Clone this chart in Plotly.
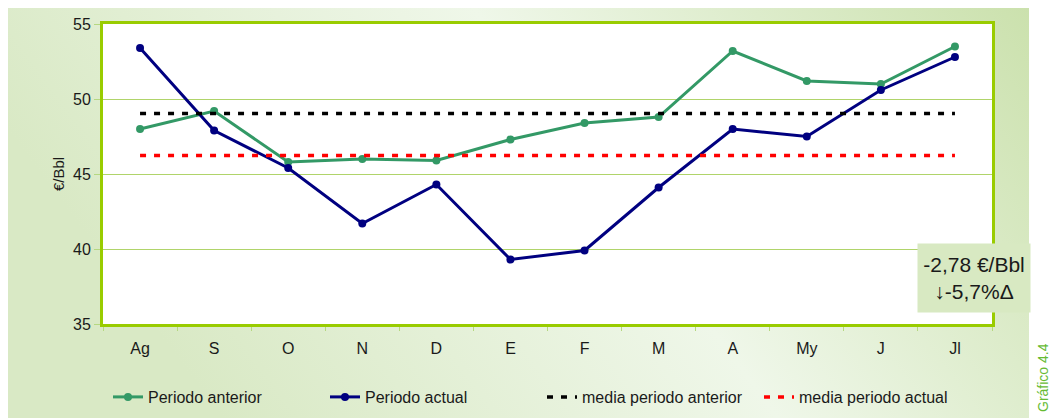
import base64
import plotly.graph_objects as go

meses = ["Ag", "S", "O", "N", "D", "E", "F", "M", "A", "My", "J", "Jl"]
periodo_anterior = [48.0, 49.2, 45.8, 46.0, 45.9, 47.3, 48.4, 48.8, 53.2, 51.2, 51.0, 53.5]
periodo_actual = [53.4, 47.9, 45.4, 41.7, 44.3, 39.3, 39.9, 44.1, 48.0, 47.5, 50.6, 52.8]
media_anterior = [49.03, 49.03, 49.03, 49.03, 49.03, 49.03, 49.03, 49.03, 49.03, 49.03, 49.03, 49.03]
media_actual = [46.24, 46.24, 46.24, 46.24, 46.24, 46.24, 46.24, 46.24, 46.24, 46.24, 46.24, 46.24]
y_ticks = [35, 40, 45, 50, 55]

W, H = 1057, 418
OFF = 8  # page body margin offset
L, T = 103 - OFF, 24 - OFF
PW, PH = 889, 300
R, B = W - L - PW, H - T - PH

def px_x(p):
    return (p - OFF - L) / PW

def px_y(p):
    return (T + PH - (p - OFF)) / PH

FONT = "Arial, Liberation Sans, sans-serif"

svg = (
    '<svg xmlns="http://www.w3.org/2000/svg" width="1022" height="412" preserveAspectRatio="none">'
    '<defs><linearGradient id="g" x1="0" y1="0.3" x2="1" y2="0">'
    '<stop offset="0" stop-color="#d9e9c5"/>'
    '<stop offset="0.5" stop-color="#eff7e9"/>'
    '<stop offset="1" stop-color="#cbe1ad"/>'
    '</linearGradient></defs>'
    '<rect width="1022" height="412" fill="url(#g)"/></svg>'
)
svg_uri = "data:image/svg+xml;base64," + base64.b64encode(svg.encode()).decode()

fig = go.Figure()
fig.add_trace(go.Scatter(
    x=meses, y=periodo_anterior, name="Periodo anterior", mode="lines+markers",
    line=dict(color="#339966", width=3), marker=dict(size=8, color="#339966"),
))
fig.add_trace(go.Scatter(
    x=meses, y=periodo_actual, name="Periodo actual", mode="lines+markers",
    line=dict(color="#000080", width=3), marker=dict(size=8, color="#000080"),
))
fig.add_trace(go.Scatter(
    x=meses, y=media_anterior, name="media periodo anterior", mode="lines",
    line=dict(color="#000000", width=3.5, dash="6px,8px"),
))
fig.add_trace(go.Scatter(
    x=meses, y=media_actual, name="media periodo actual", mode="lines",
    line=dict(color="#ff0000", width=3.5, dash="6px,8px"),
))

fig.update_layout(
    width=W, height=H,
    margin=dict(l=L, r=R, t=T, b=B, pad=0, autoexpand=False),
    paper_bgcolor="#ffffff",
    plot_bgcolor="#ffffff",
    font=dict(family=FONT, size=16, color="#1a1a1a"),
    showlegend=True,
    legend=dict(
        orientation="h", x=px_x(108), y=px_y(397), xanchor="left", yanchor="middle",
        bgcolor="rgba(0,0,0,0)", font=dict(size=16, family=FONT, color="#1a1a1a"),
        tracegroupgap=0, entrywidth=172, entrywidthmode="pixels",
    ),
    images=[dict(
        source=svg_uri, xref="paper", yref="paper",
        x=px_x(7), y=px_y(6), sizex=px_x(1029) - px_x(7), sizey=px_y(6) - px_y(418),
        xanchor="left", yanchor="top", sizing="stretch", layer="below",
    )],
    shapes=[dict(
        type="rect", xref="paper", yref="paper", x0=0, x1=1, y0=0, y1=1,
        fillcolor="#ffffff", line=dict(width=0), layer="below",
    )],
    xaxis=dict(
        range=[-0.5, 11.5], showgrid=False, showline=True, linecolor="#99cc00",
        linewidth=3, mirror=True, ticks="outside", tickson="boundaries",
        ticklen=4, tickcolor="#b5d880", tickwidth=1, ticklabelstandoff=8,
        tickfont=dict(size=16, family=FONT, color="#1a1a1a"), zeroline=False,
    ),
    yaxis=dict(
        range=[35, 55], tickvals=y_ticks, showgrid=True, gridcolor="#b0d46a",
        gridwidth=1, showline=True, linecolor="#99cc00", linewidth=3, mirror=True,
        ticks="outside", ticklen=6, tickcolor="#b5d880", tickwidth=1,
        tickfont=dict(size=16, family=FONT, color="#1a1a1a"), zeroline=False,
        title=dict(text="€/Bbl", font=dict(size=15, family=FONT, color="#1a1a1a"), standoff=5),
    ),
    annotations=[
        dict(
            text="-2,78 €/Bbl<br>↓-5,7%Δ", xref="paper", yref="paper",
            x=px_x(974), y=px_y(278), xanchor="center", yanchor="middle",
            showarrow=False, align="center", bgcolor="#d8e9c2",
            font=dict(size=21, family=FONT, color="#1a1a1a"),
            width=108, height=64, borderpad=2,
        ),
        dict(
            text="Gráfico 4.4", xref="paper", yref="paper",
            x=px_x(1043), y=px_y(378), xanchor="center", yanchor="middle",
            showarrow=False, textangle=-90,
            font=dict(size=14, family=FONT, color="#66bb33"),
        ),
    ],
)

fig.write_html("out.html")
